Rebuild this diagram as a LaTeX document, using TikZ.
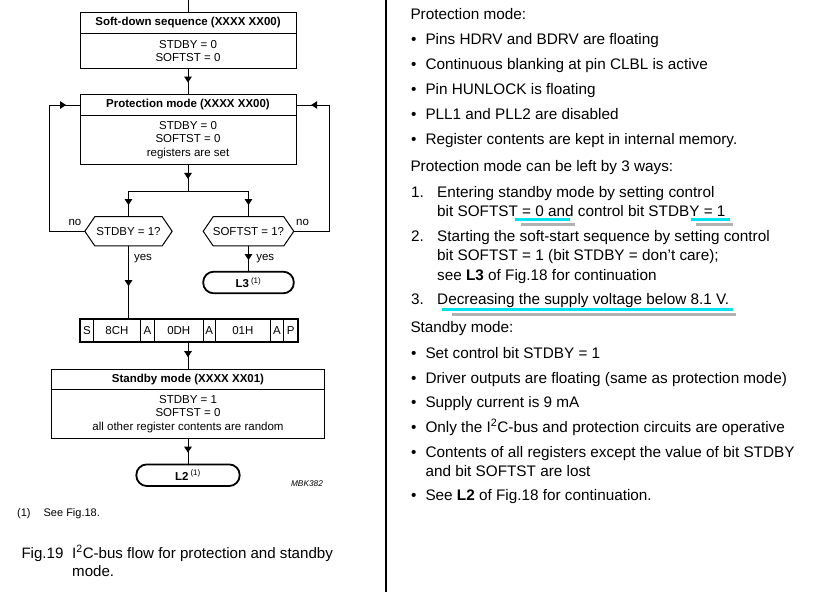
\documentclass[tikz,border=0pt]{standalone}
\usepackage{fontspec}
\setmainfont{Liberation Sans}
\usetikzlibrary{positioning,arrows.meta,decorations.markings}

\definecolor{marker}{RGB}{0,226,240}
% outline of a decision node (flat top and bottom, pointed sides)
\newcommand\hexframe[1]{\draw (#1.west) -- ([xshift=10pt]#1.north west) -- ([xshift=-10pt]#1.north east) -- (#1.east) -- ([xshift=-10pt]#1.south east) -- ([xshift=10pt]#1.south west) -- cycle;}

\begin{document}
\begin{tikzpicture}[x=1pt, y=-1pt, line width=1pt,
  font=\fontsize{11.5}{13.5}\selectfont,
  head/.style={draw, outer sep=0pt, inner sep=0pt, minimum height=21pt, font=\fontsize{11.5}{13.5}\selectfont\bfseries},
  body/.style={draw, outer sep=0pt, inner sep=0pt, align=center},
  cell/.style={draw, outer sep=0pt, inner sep=0pt, minimum height=23.3pt},
  hexq/.style={outer sep=0pt, inner sep=0pt, minimum height=29.3pt},
  term/.style={draw, line width=1.8pt, rounded corners=10.5pt, outer sep=0pt, inner sep=0pt, minimum height=21.6pt},
  lbl/.style={inner sep=0pt},
  rtxt/.style={anchor=base west, inner sep=0pt, font=\fontsize{15.3}{18}\selectfont},
  midarrow/.style={postaction={decorate}, decoration={markings, mark=at position 0.55 with {\arrow{Triangle[length=6pt,width=7.5pt]}}}}
]
\useasboundingbox (0,0) rectangle (817,592);

% flow chart
\coordinate (top) at (188,0);
\node[head, minimum width=216pt] (softh) at (188,22.8) {Soft-down sequence (XXXX XX00)};
\node[body, minimum width=216pt, minimum height=35pt, below=0pt of softh] (softb) {STDBY = 0\\SOFTST = 0};

\node[head, minimum width=216pt, minimum height=21.4pt] (proth) at (188,105) {Protection mode (XXXX XX00)};
\node[body, minimum width=216pt, minimum height=48.6pt, below=0pt of proth] (protb) {STDBY = 0\\SOFTST = 0\\registers are set};

\coordinate (split) at (188,191);
\coordinate (lback) at (49,105);
\coordinate (rback) at (329.7,105);
\node[hexq, minimum width=87.3pt] (qstd) at (128.5,231.3) {STDBY = 1?};
\node[hexq, minimum width=90.6pt] (qsoft) at (248.5,231.3) {SOFTST = 1?};
\hexframe{qstd}
\hexframe{qsoft}
\node[lbl] (nol) at (75,222.3) {no};
\node[lbl] (nor) at (302.5,222.3) {no};
\node[lbl] (yesl) at (143,258.3) {yes};
\node[lbl] (yesr) at (265.3,258.3) {yes};

\node[term, minimum width=90.6pt] (l3) at (248.5,282.5) {\textbf{L3}\,\textsuperscript{(1)}};

% I2C bytes
\node[cell, minimum width=13.3pt] (cs) at (86.95,330.7) {S};
\node[cell, minimum width=46.7pt, right=0pt of cs] (c8c) {8CH};
\node[cell, minimum width=14.3pt, right=0pt of c8c] (ca1) {A};
\node[cell, minimum width=48.4pt, right=0pt of ca1] (c0d) {0DH};
\node[cell, minimum width=12.3pt, right=0pt of c0d] (ca2) {A};
\node[cell, minimum width=55pt, right=0pt of ca2] (c01) {01H};
\node[cell, minimum width=13.3pt, right=0pt of c01] (ca3) {A};
\node[cell, minimum width=14.4pt, right=0pt of ca3] (cp) {P};
\draw[line width=2.2pt] (cs.north west) rectangle (cp.south east);

\node[head, minimum width=273.4pt, minimum height=19.7pt] (stbyh) at (188,379.2) {Standby mode (XXXX XX01)};
\node[body, minimum width=273.4pt, minimum height=49.3pt, below=0pt of stbyh] (stbyb) {STDBY = 1\\SOFTST = 0\\all other register contents are random};
\node[term, minimum width=103.3pt] (l2) at (188,475.2) {\textbf{L2}\,\textsuperscript{(1)}};
\node[lbl, font=\fontsize{8.3}{10}\selectfont\itshape] (code) at (307,483.3) {MBK382};

\draw (top) -- (softh.north);
\draw[midarrow] (softb.south) -- (proth.north);
\draw[midarrow] (protb.south) -- (split);
\draw (split -| qstd) -- (split -| qsoft);
\draw[midarrow] (split -| qstd) -- (qstd.north);
\draw[midarrow] (split -| qsoft) -- (qsoft.north);
\draw (qstd.west) -| (lback);
\draw[midarrow] (lback) -- (proth.west);
\draw (qsoft.east) -| (rback);
\draw[midarrow] (rback) -- (proth.east);
\draw[midarrow] (qstd.south) -- (qstd.south |- cs.north);
\draw[midarrow] (qsoft.south) -- (l3.north);
\draw[midarrow] (stbyh.north |- cs.south) -- (stbyh.north);
\draw[midarrow] (stbyb.south) -- (l2.north);

% footnote and caption
\node[lbl, anchor=base west, font=\fontsize{11}{13}\selectfont] (note) at (16.7,516.5) {(1)\hspace{13pt}See Fig.18.};
\node[lbl, anchor=base west, font=\fontsize{15.1}{17}\selectfont] (fig) at (21,558) {Fig.19};
\node[lbl, anchor=base west, font=\fontsize{15.1}{17}\selectfont] (cap1) at (71.7,558) {I\textsuperscript{2}C-bus flow for protection and standby};
\node[lbl, anchor=base west, font=\fontsize{15.1}{17}\selectfont] (cap2) at (71.7,576.5) {mode.};

\draw[line width=2.5pt] (386,0) -- (386,592);

% marker lines
\draw[line width=3pt, black!30] (521,224.5) -- (575,224.5);
\draw[line width=3pt, black!30] (696,224.5) -- (733,224.5);
\draw[line width=3pt, black!30] (452,314) -- (736,314);
\draw[line width=3pt, marker] (515,219) -- (570,219);
\draw[line width=3pt, marker] (690.7,219) -- (730,219);
\draw[line width=3pt, marker] (441.7,309) -- (733.3,309);

% text
\node[rtxt] (pmhead) at (410,19) {Protection mode:};
\node[rtxt] (pmb1) at (410.5,44) {\textbullet};
\node[rtxt] (pm1) at (425,44) {Pins HDRV and BDRV are floating};
\node[rtxt] (pmb2) at (410.5,69) {\textbullet};
\node[rtxt] (pm2) at (425,69) {Continuous blanking at pin CLBL is active};
\node[rtxt] (pmb3) at (410.5,94) {\textbullet};
\node[rtxt] (pm3) at (425,94) {Pin HUNLOCK is floating};
\node[rtxt] (pmb4) at (410.5,119) {\textbullet};
\node[rtxt] (pm4) at (425,119) {PLL1 and PLL2 are disabled};
\node[rtxt] (pmb5) at (410.5,144) {\textbullet};
\node[rtxt] (pm5) at (425,144) {Register contents are kept in internal memory.};
\node[rtxt] (leave) at (410,171) {Protection mode can be left by 3 ways:};
\node[rtxt] (wn1) at (410.7,197) {1.};
\node[rtxt] (w1a) at (436.7,197) {Entering standby mode by setting control};
\node[rtxt] (w1b) at (436.7,216.5) {bit SOFTST = 0 and control bit STDBY = 1};
\node[rtxt] (wn2) at (410.7,241) {2.};
\node[rtxt] (w2a) at (436.7,241) {Starting the soft-start sequence by setting control};
\node[rtxt] (w2b) at (436.7,260.5) {bit SOFTST = 1 (bit STDBY = don’t care);};
\node[rtxt] (w2c) at (436.7,280) {see \textbf{L3} of Fig.18 for continuation};
\node[rtxt] (wn3) at (410.7,304.5) {3.};
\node[rtxt] (w3) at (436.7,304.5) {Decreasing the supply voltage below 8.1 V.};
\node[rtxt] (sbhead) at (410,332) {Standby mode:};
\node[rtxt] (sbb1) at (410.5,358.5) {\textbullet};
\node[rtxt] (sb1) at (425,358.5) {Set control bit STDBY = 1};
\node[rtxt] (sbb2) at (410.5,383.5) {\textbullet};
\node[rtxt] (sb2) at (425,383.5) {Driver outputs are floating (same as protection mode)};
\node[rtxt] (sbb3) at (410.5,407) {\textbullet};
\node[rtxt] (sb3) at (425,407) {Supply current is 9 mA};
\node[rtxt] (sbb4) at (410.5,432) {\textbullet};
\node[rtxt] (sb4) at (425,432) {Only the I\textsuperscript{2}C-bus and protection circuits are operative};
\node[rtxt] (sbb5) at (410.5,457) {\textbullet};
\node[rtxt] (sb5a) at (425,457) {Contents of all registers except the value of bit STDBY};
\node[rtxt] (sb5b) at (425,476.5) {and bit SOFTST are lost};
\node[rtxt] (sbb6) at (410.5,500) {\textbullet};
\node[rtxt] (sb6) at (425,500) {See \textbf{L2} of Fig.18 for continuation.};
\end{tikzpicture}
\end{document}
